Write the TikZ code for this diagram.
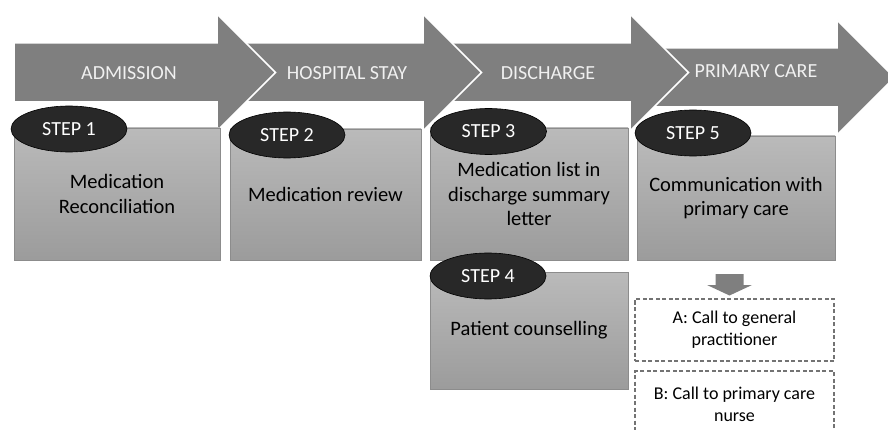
\documentclass[tikz,border=0pt]{standalone}
\usepackage{fontspec}
\setmainfont{Carlito}
\usetikzlibrary{shapes.geometric}
\definecolor{phasegray}{HTML}{7F7F7F}
\definecolor{stepdark}{HTML}{282828}
\def\phasearrow(#1:#2:#3:#4:#5){\draw[phase] (#1,#3-#4) -- (#2,#3-#4) -- (#2,#3-#5) -- (#2+#5,#3) -- (#2,#3+#5) -- (#2,#3+#4) -- (#1,#3+#4) -- cycle;}

\begin{document}
\begin{tikzpicture}[x=1pt, y=-1pt,
		phase/.style={fill=phasegray, draw=white, line width=1.5pt, line join=miter},
		phaselabel/.style={text=white!94!black, font=\fontsize{20}{24}\selectfont, inner sep=0pt},
		stepbox/.style={draw=black!45, line width=0.8pt, top color=black!27, bottom color=black!39, align=center, inner sep=0pt, font=\fontsize{20.5}{24.5}\selectfont},
		steptag/.style={ellipse, fill=stepdark, draw=black, line width=0.6pt, text=white, minimum width=116pt, minimum height=46pt, inner sep=0pt, font=\fontsize{20}{24}\selectfont},
		callbox/.style={draw=black!55, dashed, dash pattern=on 4pt off 2.5pt, line width=1.1pt, fill=white, align=center, inner sep=0pt, font=\fontsize{18}{22}\selectfont}]
			%%%%% START %%%%%
			\useasboundingbox (0,0) rectangle (888,430);
			\clip (0,0) rectangle (888,430);
			
			% phases, right to left so each head lies on the next one
			\phasearrow(650:837:77.5:29.5:57.5)
			\phasearrow(440:630:72.5:29.5:58.5)
			\phasearrow(230:423:72.5:29.5:58.5)
			\phasearrow(14:217:72.5:29.5:58.5)
			
			\node[phaselabel] (admission) at (129,73) {ADMISSION};
			\node[phaselabel] (stay) at (347,73) {HOSPITAL STAY};
			\node[phaselabel] (discharge) at (548,73) {DISCHARGE};
			\node[phaselabel] (primary) at (756,71) {PRIMARY CARE};
			
			% steps
			\node[stepbox, minimum width=206pt, minimum height=132pt] (box1) at (117,194) {Medication\\Reconciliation};
			\node[stepbox, minimum width=191pt, minimum height=131pt] (box2) at (325.5,194.5) {Medication review};
			\node[stepbox, minimum width=198pt, minimum height=132pt] (box3) at (529,194) {Medication list in\\discharge summary\\letter};
			\node[stepbox, minimum width=198pt, minimum height=124pt] (box5) at (736,198) {Communication with\\primary care};
			\node[stepbox, minimum width=198pt, minimum height=117pt] (box4) at (529,330.5) {Patient counselling};
			
			\node[steptag] (tag1) at (69,129) {STEP 1};
			\node[steptag] (tag2) at (287,135) {STEP 2};
			\node[steptag] (tag3) at (488.5,131.5) {STEP 3};
			\node[steptag] (tag5) at (693,133) {STEP 5};
			\node[steptag] (tag4) at (488,276) {STEP 4};
			
			% follow-up calls
			\coordinate (down) at (729.5,274);
			\fill[phasegray] (down) ++(-14,0) -- ++(28,0) -- ++(0,11) -- ++(8.5,0) -- (729.5,295.5) -- (707,285) -- ++(8.5,0) -- cycle;
			
			\node[callbox, minimum width=199pt, minimum height=62pt] (callA) at (734.5,330) {A: Call to general\\practitioner};
			\node[callbox, minimum width=199pt, minimum height=66pt] (callB) at (734.5,404) {B: Call to primary care\\nurse};
			%%%%% END %%%%%
\end{tikzpicture}
\end{document}
